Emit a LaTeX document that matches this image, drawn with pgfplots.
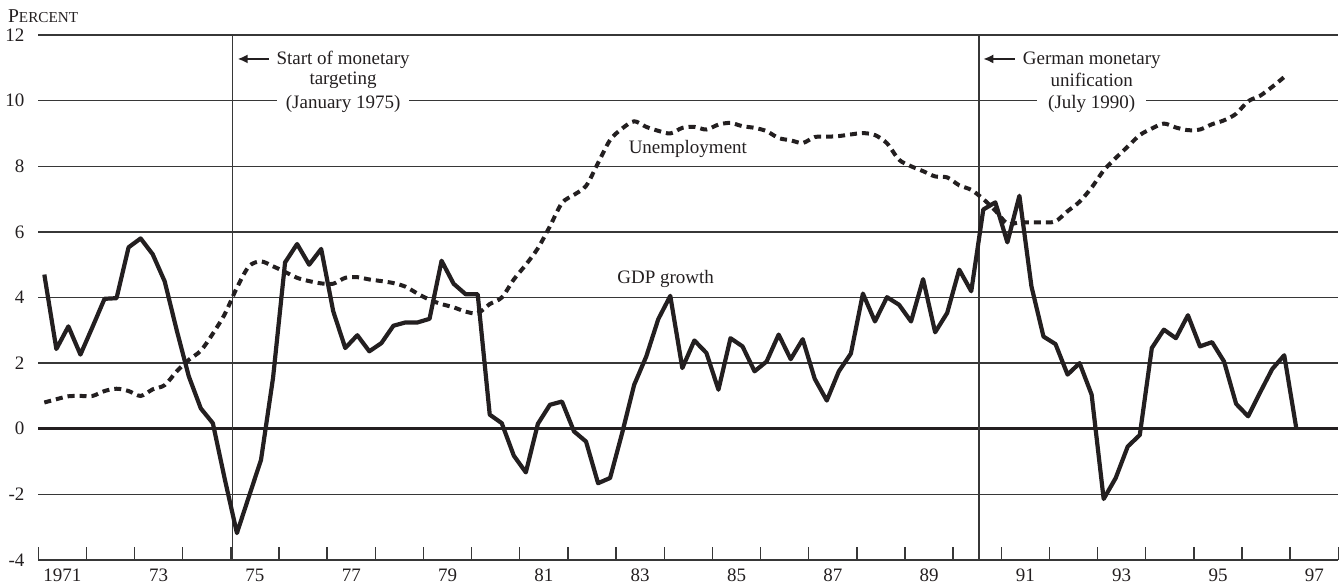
\documentclass[border=0pt]{standalone}
\usepackage{fontspec}
\setmainfont{Liberation Serif}
\usepackage{pgfplots}
\pgfplotsset{compat=1.18}
\usetikzlibrary{arrows.meta}
\definecolor{ink}{RGB}{35,31,32}
\definecolor{gridc}{RGB}{55,55,55}
\newcommand{\fs}{\fontsize{9.5}{11}\selectfont}
\begin{document}
\begin{tikzpicture}
\path[use as bounding box] (-19.15pt,-13pt) rectangle (652.85pt,280pt);
\begin{axis}[
  at={(0,0)}, anchor=south west,
  scale only axis, width=650.05pt, height=262.5pt,
  xmin=1971, xmax=1998, ymin=-4, ymax=12,
  enlargelimits=false, clip=false,
  axis x line=bottom, axis y line=left,
  x axis line style={-, gridc, line width=0.7pt},
  y axis line style={draw=none},
  xtick={1971.5,1973.5,1975.5,1977.5,1979.5,1981.5,1983.5,1985.5,1987.5,1989.5,1991.5,1993.5,1995.5,1997.5},
  xticklabels={1971,73,75,77,79,81,83,85,87,89,91,93,95,97},
  minor xtick={1971,1972,...,1998},
  tick align=inside, major tick length=0pt, minor tick length=6.5pt,
  tick style={gridc, line width=0.7pt},
  ytick={-4,-2,...,12}, yticklabels={-4,-2,0,2,4,6,8,10,12},
  ymajorgrids, grid style={gridc, line width=0.7pt},
  extra y ticks={0}, extra y tick labels={},
  extra y tick style={ymajorgrids=true, grid style={ink, line width=1.4pt}},
  tick label style={font=\fs, text=ink},
  yticklabel style={xshift=-3.4pt},
  xticklabel style={yshift=-0.8pt},
]
\draw[gridc, line width=0.7pt] (axis cs:1975.037,-4) -- (axis cs:1975.037,12);
\draw[gridc, line width=0.7pt] (axis cs:1990.537,-4) -- (axis cs:1990.537,12);

\node[font=\fs, text=ink, anchor=base] at (axis cs:1977.33,11.10) {Start of monetary};
\node[font=\fs, text=ink, anchor=base] at (axis cs:1977.33,10.49) {targeting};
\node[font=\fs, text=ink, anchor=base, fill=white, inner xsep=4.5pt] at (axis cs:1977.33,9.77) {(January 1975)};
\draw[ink, line width=0.9pt, -{Latex[length=5pt,width=4.5pt]}] (axis cs:1975.79,11.27) -- (axis cs:1975.14,11.27);

\node[font=\fs, text=ink, anchor=base] at (axis cs:1992.877,11.10) {German monetary};
\node[font=\fs, text=ink, anchor=base] at (axis cs:1992.877,10.44) {unification};
\node[font=\fs, text=ink, anchor=base, fill=white, inner xsep=5.5pt] at (axis cs:1992.877,9.77) {(July 1990)};
\draw[ink, line width=0.9pt, -{Latex[length=5pt,width=4.5pt]}] (axis cs:1991.28,11.27) -- (axis cs:1990.625,11.27);

\node[font=\fs, text=ink, anchor=base] at (axis cs:1984.49,8.38) {Unemployment};
\node[font=\fs, text=ink, anchor=base] at (axis cs:1984.03,4.44) {GDP growth};

\node[anchor=base west, inner sep=0pt, text=ink] at (axis cs:1970.364,12.37) {\fontsize{9.8}{11}\selectfont P\fontsize{7.6}{9}\selectfont ERCENT};

% Unemployment
\addplot[ink, line width=2pt, dash pattern=on 3.5pt off 2.5pt, smooth, tension=0.5] coordinates {
(1971.125,0.80) (1971.375,0.90) (1971.625,0.99) (1971.875,1.00)
(1972.125,1.00) (1972.375,1.15) (1972.625,1.22) (1972.875,1.15)
(1973.125,1.00) (1973.375,1.20) (1973.625,1.33) (1973.875,1.75)
(1974.125,2.10) (1974.375,2.38) (1974.625,2.90) (1974.875,3.50)
(1975.125,4.30) (1975.375,4.95) (1975.625,5.10) (1975.875,4.95)
(1976.125,4.78) (1976.375,4.60) (1976.625,4.50) (1976.875,4.43)
(1977.125,4.42) (1977.375,4.60) (1977.625,4.62) (1977.875,4.55)
(1978.125,4.50) (1978.375,4.44) (1978.625,4.33) (1978.875,4.12)
(1979.125,3.93) (1979.375,3.80) (1979.625,3.70) (1979.875,3.57)
(1980.125,3.52) (1980.375,3.80) (1980.625,4.00) (1980.875,4.55)
(1981.125,5.00) (1981.375,5.50) (1981.625,6.17) (1981.875,6.88)
(1982.125,7.13) (1982.375,7.40) (1982.625,8.10) (1982.875,8.80)
(1983.125,9.15) (1983.375,9.37) (1983.625,9.20) (1983.875,9.08)
(1984.125,9.00) (1984.375,9.17) (1984.625,9.20) (1984.875,9.12)
(1985.125,9.27) (1985.375,9.32) (1985.625,9.22) (1985.875,9.17)
(1986.125,9.07) (1986.375,8.86) (1986.625,8.79) (1986.875,8.71)
(1987.125,8.89) (1987.375,8.90) (1987.625,8.92) (1987.875,8.97)
(1988.125,9.01) (1988.375,8.95) (1988.625,8.70) (1988.875,8.20)
(1989.125,8.00) (1989.375,7.85) (1989.625,7.69) (1989.875,7.66)
(1990.125,7.42) (1990.375,7.28) (1990.625,7.00) (1990.875,6.65)
(1991.125,6.25) (1991.375,6.29) (1991.625,6.29) (1991.875,6.29)
(1992.125,6.32) (1992.375,6.63) (1992.625,6.92) (1992.875,7.35)
(1993.125,7.87) (1993.375,8.25) (1993.625,8.60) (1993.875,8.95)
(1994.125,9.15) (1994.375,9.30) (1994.625,9.18) (1994.875,9.10)
(1995.125,9.12) (1995.375,9.28) (1995.625,9.40) (1995.875,9.60)
(1996.125,9.98) (1996.375,10.15) (1996.625,10.42) (1996.875,10.72)
};

% GDP growth
\addplot[ink, line width=2.1pt, line join=round] coordinates {
(1971.125,4.70) (1971.375,2.43) (1971.625,3.12) (1971.875,2.26)
(1972.125,3.10) (1972.375,3.96) (1972.625,3.98) (1972.875,5.53)
(1973.125,5.80) (1973.375,5.32) (1973.625,4.49) (1973.875,3.00)
(1974.125,1.60) (1974.375,0.62) (1974.625,0.17) (1974.875,-1.55)
(1975.125,-3.18) (1975.375,-2.06) (1975.625,-0.95) (1975.875,1.55)
(1976.125,5.07) (1976.375,5.63) (1976.625,5.00) (1976.875,5.48)
(1977.125,3.58) (1977.375,2.46) (1977.625,2.85) (1977.875,2.36)
(1978.125,2.61) (1978.375,3.14) (1978.625,3.24) (1978.875,3.24)
(1979.125,3.35) (1979.375,5.12) (1979.625,4.42) (1979.875,4.10)
(1980.125,4.10) (1980.375,0.43) (1980.625,0.17) (1980.875,-0.82)
(1981.125,-1.33) (1981.375,0.15) (1981.625,0.73) (1981.875,0.83)
(1982.125,-0.08) (1982.375,-0.39) (1982.625,-1.66) (1982.875,-1.50)
(1983.125,-0.13) (1983.375,1.34) (1983.625,2.20) (1983.875,3.34)
(1984.125,4.05) (1984.375,1.85) (1984.625,2.69) (1984.875,2.31)
(1985.125,1.19) (1985.375,2.76) (1985.625,2.51) (1985.875,1.75)
(1986.125,2.05) (1986.375,2.87) (1986.625,2.12) (1986.875,2.73)
(1987.125,1.52) (1987.375,0.86) (1987.625,1.75) (1987.875,2.29)
(1988.125,4.12) (1988.375,3.27) (1988.625,4.01) (1988.875,3.78)
(1989.125,3.27) (1989.375,4.56) (1989.625,2.94) (1989.875,3.53)
(1990.125,4.85) (1990.375,4.19) (1990.625,6.68) (1990.875,6.90)
(1991.125,5.68) (1991.375,7.10) (1991.625,4.34) (1991.875,2.81)
(1992.125,2.58) (1992.375,1.65) (1992.625,2.00) (1992.875,1.04)
(1993.125,-2.14) (1993.375,-1.50) (1993.625,-0.54) (1993.875,-0.19)
(1994.125,2.46) (1994.375,3.02) (1994.625,2.76) (1994.875,3.46)
(1995.125,2.51) (1995.375,2.64) (1995.625,2.05) (1995.875,0.76)
(1996.125,0.38) (1996.375,1.11) (1996.625,1.82) (1996.875,2.24)
(1997.125,0.02)
};
\end{axis}
\end{tikzpicture}
\end{document}
